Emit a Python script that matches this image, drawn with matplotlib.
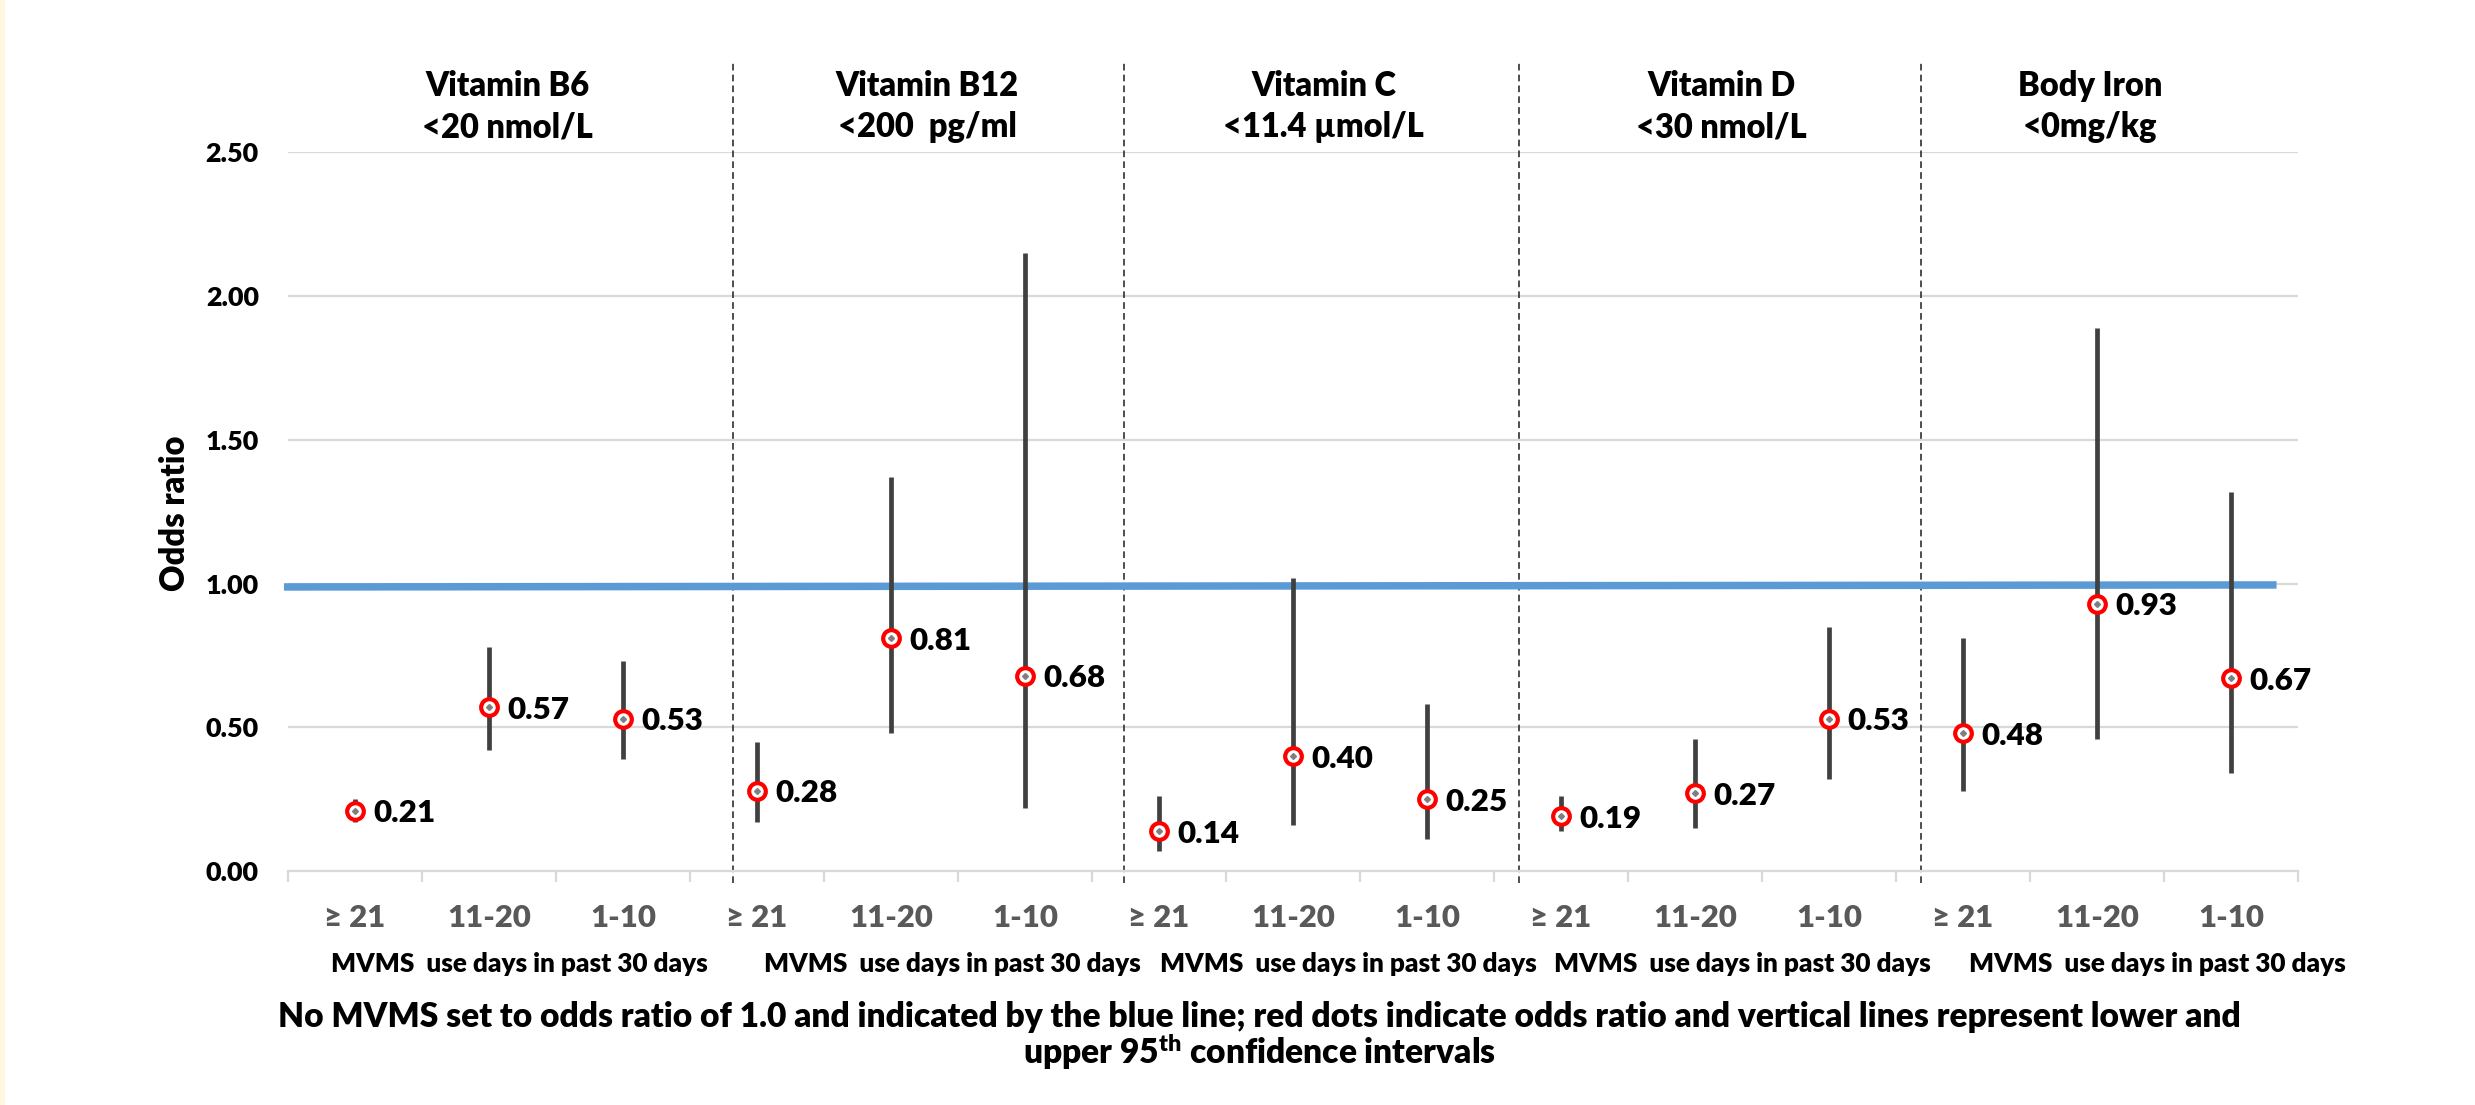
import matplotlib
matplotlib.use("Agg")
import matplotlib.pyplot as plt
from matplotlib.patches import Rectangle

plt.rcParams['font.family'] = ['Lato', 'DejaVu Sans']
plt.rcParams['font.weight'] = 'heavy'
plt.rcParams['mathtext.fontset'] = 'custom'
plt.rcParams['mathtext.rm'] = 'Lato:heavy'
plt.rcParams['mathtext.bf'] = 'Lato:heavy'
plt.rcParams['mathtext.it'] = 'Lato:heavy'

# data
groups = ["Vitamin B6", "Vitamin B12", "Vitamin C", "Vitamin D", "Body Iron"]
cutoffs = ["<20 nmol/L", "<200  pg/ml", "<11.4 \u00b5mol/L", "<30 nmol/L", "<0mg/kg"]
days = ["\u2265 21", "11-20", "1-10"]
odds = [0.21, 0.57, 0.53, 0.28, 0.81, 0.68, 0.14, 0.40, 0.25,
        0.19, 0.27, 0.53, 0.48, 0.93, 0.67]
lower = [0.17, 0.42, 0.39, 0.17, 0.48, 0.22, 0.07, 0.16, 0.11,
         0.14, 0.15, 0.32, 0.28, 0.46, 0.34]
upper = [0.25, 0.78, 0.73, 0.45, 1.37, 2.15, 0.26, 1.02, 0.58,
         0.26, 0.46, 0.85, 0.81, 1.89, 1.32]
ref_y = [0.988, 0.995]   # the "no MVMS" line, slightly tilted in the original
yticks = [0.0, 0.5, 1.0, 1.5, 2.0, 2.5]

caption1 = ("No MVMS set to odds ratio of 1.0 and indicated by the blue line; red dots "
            "indicate odds ratio and vertical lines represent lower and")
caption2 = r"upper 95$^{\mathrm{th}}$ confidence intervals"
note = "MVMS  use days in past 30 days"

# layout (category units / pixels)
ref_x = [-0.53, 14.34]
divider_x = [2.82, 5.74, 8.69, 11.69]
title_x = [1.14, 4.27, 7.23, 10.2, 12.95]
note_x = [1.23, 4.46, 7.41, 10.35, 13.45]

W, H = 2475, 1105
fig = plt.figure(figsize=(W / 100, H / 100), dpi=100)
fig.patch.set_facecolor("white")
fig.patches.append(Rectangle((0, 0), 4 / W, 1, transform=fig.transFigure,
                             color="#FFF7E0", zorder=0))
renderer = fig.canvas.get_renderer()


def size_for(s, target_px):
    # font size that makes string s about target_px wide
    t = fig.text(0, 0, s, fontsize=20)
    w = t.get_window_extent(renderer).width
    t.remove()
    return 20 * target_px / w


fs_title = sum(size_for(s, w) for s, w in
               zip(groups + cutoffs, [164, 181, 146, 149, 144, 171, 182, 200, 171, 134])) / 10
fs_caption = size_for(caption1, 1962)
fs_note = size_for(note, 377)
fs_xtick = size_for("11-20", 84)
fs_value = size_for("0.28", 62)
fs_ytick = size_for("0.50", 53)

ax = fig.add_axes([288 / W, 234 / H, 2010 / W, 718.75 / H])
n = len(odds)
x = list(range(n))

ax.set_xlim(-0.5, n - 0.5)
ax.set_ylim(0, 2.5)
for s in ["top", "right", "left"]:
    ax.spines[s].set_visible(False)
ax.spines["bottom"].set_color("#D9D9D9")
ax.spines["bottom"].set_linewidth(1.6)

ax.set_yticks(yticks)
ax.set_yticklabels([f"{v:.2f}" for v in yticks], fontsize=fs_ytick)
ax.tick_params(axis="y", length=0, pad=21)
ax.yaxis.grid(True, color="#D9D9D9", linewidth=1.6)
ax.set_axisbelow(True)

ax.set_xticks(x)
ax.set_xticklabels(days * len(groups), fontsize=fs_xtick, color="#595959")
ax.set_xticks([i - 0.5 for i in range(n + 1)], minor=True)
ax.tick_params(axis="x", which="major", length=0, pad=24)
ax.tick_params(axis="x", which="minor", length=8, width=1.6, color="#D9D9D9")

# reference line
ax.plot(ref_x, ref_y, color="#5B9BD5", linewidth=5.4, solid_capstyle="butt",
        clip_on=False, zorder=2)

# confidence intervals and points
ax.vlines(x, lower, upper, color="#404040", linewidth=3.4, zorder=3)
ax.plot(x, odds, "o", markersize=12, markerfacecolor="white",
        markeredgecolor="#FF0000", markeredgewidth=3, zorder=4)
ax.plot(x, odds, "D", markersize=3, color="#7F7F7F", zorder=5)
for xi, v in zip(x, odds):
    ax.annotate(f"{v:.2f}", (xi, v), xytext=(13.5, -2), textcoords="offset points",
                ha="left", va="center", fontsize=fs_value, color="black")

# dashed dividers between nutrients
for dx in divider_x:
    ax.plot([dx, dx], [-0.04, 2.82], color="#303030", linewidth=1.2,
            linestyle=(0, (4, 2.5)), clip_on=False, zorder=1)

trans = ax.get_xaxis_transform()
for tx, nx, g, c in zip(title_x, note_x, groups, cutoffs):
    ax.text(tx, 1.078, g, transform=trans, ha="center", va="baseline", fontsize=fs_title)
    ax.text(tx, 1.021, c, transform=trans, ha="center", va="baseline", fontsize=fs_title)
    ax.text(nx, -0.1405, note, transform=trans, ha="center", va="baseline",
            fontsize=fs_note)

fig.text(175 / W, 1 - 513 / H, "Odds ratio", rotation=90, ha="center", va="center",
         fontsize=fs_title)

fig.text(1259 / W, 1 - 1027 / H, caption1, ha="center", va="baseline",
         fontsize=fs_caption)
fig.text(1259 / W, 1 - 1064 / H, caption2, ha="center", va="baseline",
         fontsize=fs_caption)

fig.savefig("out.png", dpi=100)
